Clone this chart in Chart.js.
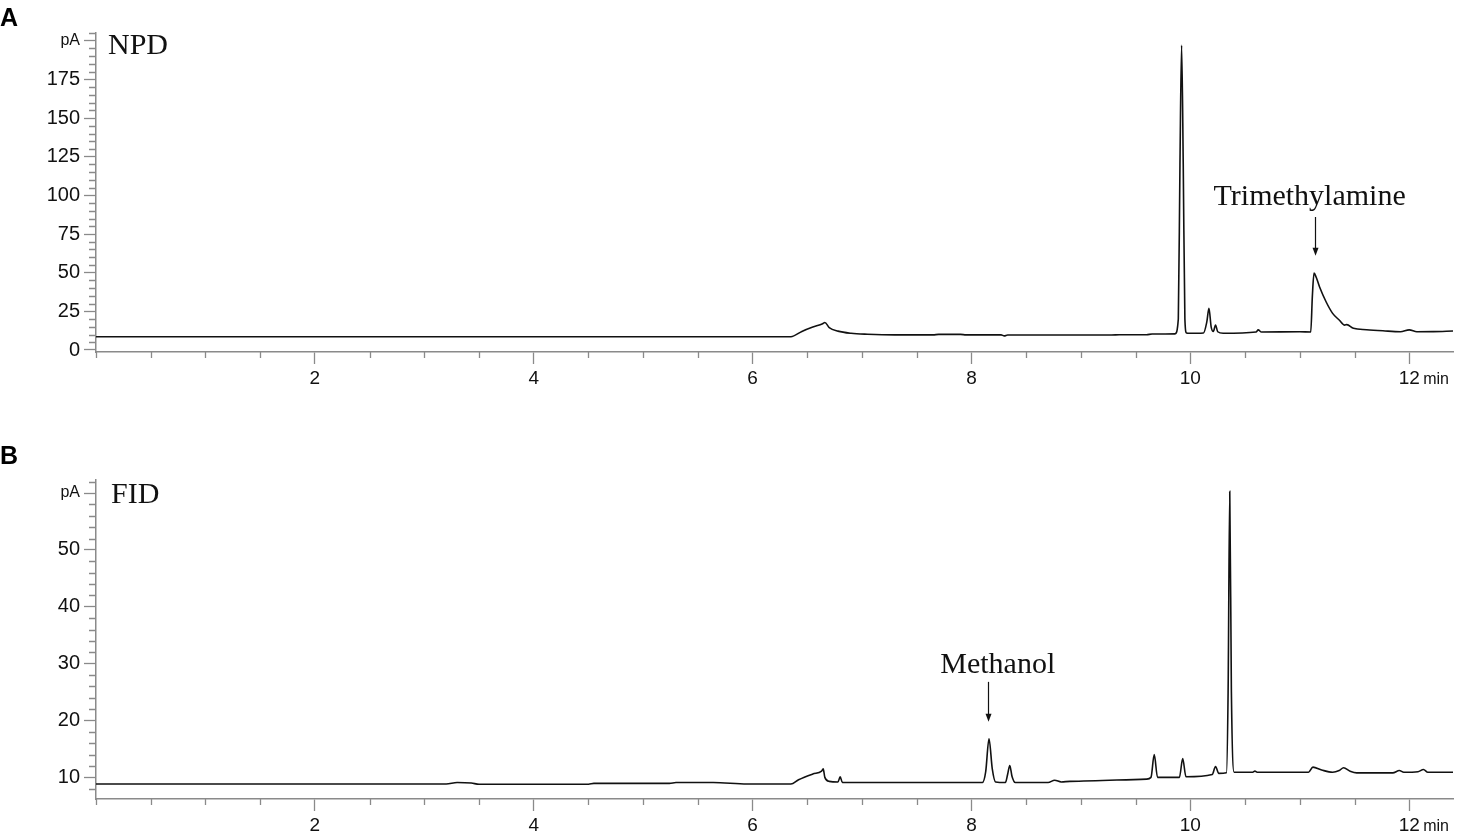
<!DOCTYPE html>
<html>
<head>
<meta charset="utf-8">
<title>GC chromatograms NPD / FID</title>
<script src="https://cdn.jsdelivr.net/npm/chart.js"></script>
<style>
  body { margin: 0; background: #fff; }
  #wrap { position: relative; width: 1457px; height: 836px; overflow: hidden; }
  .panel { position: absolute; left: 0; width: 1457px; }
</style>
</head>
<body>
<div id="wrap">
  <div class="panel" style="top:0;height:389px"><canvas id="npdChart" width="1457" height="389"></canvas></div>
  <div class="panel" style="top:437px;height:399px"><canvas id="fidChart" width="1457" height="399"></canvas></div>
</div>
<script>
// panel A - NPD trace: retention time (min) / signal (pA)
const npdTime = [0, 6.35, 6.45, 6.55, 6.64, 6.66, 6.70, 6.78, 6.90, 7.05, 7.30, 7.65, 7.70, 7.90, 7.95,
  8.27, 8.30, 8.33, 9.28, 9.35, 9.60, 9.65, 9.86, 9.89, 9.905, 9.92, 9.935, 9.95, 9.965, 9.99,
  10.12, 10.15, 10.17, 10.19, 10.21, 10.23, 10.25, 10.30, 10.60, 10.62, 10.65, 11.00, 11.10, 11.115,
  11.13, 11.15, 11.18, 11.24, 11.30, 11.36, 11.41, 11.43, 11.49, 11.61, 11.76, 11.92, 12.00, 12.07, 12.22, 12.40];
const npdSignal = [8.6, 8.6, 12.0, 14.8, 17.0, 17.8, 14.5, 12.2, 10.8, 10.2, 9.8, 9.8, 10.1, 10.1, 9.8,
  9.8, 9.1, 9.7, 9.7, 9.9, 9.9, 10.3, 10.4, 20, 120, 197, 120, 20, 11.0, 10.8,
  11.0, 18, 26.9, 15, 12.0, 16.1, 11.8, 10.8, 11.6, 13.0, 11.6, 11.8, 11.6, 35,
  49.7, 47, 40.9, 31.2, 23.7, 19.4, 16.1, 16.4, 14.0, 13.1, 12.4, 11.8, 13.0, 11.8, 11.9, 12.3];

// panel B - FID trace
const fidTime = [0, 3.20, 3.30, 3.43, 3.50, 4.50, 4.55, 5.24, 5.30, 5.64, 5.95, 6.35, 6.42, 6.55, 6.63,
  6.645, 6.66, 6.70, 6.78, 6.80, 6.82, 8.10, 8.13, 8.16, 8.19, 8.22, 8.31, 8.33, 8.35, 8.37, 8.40,
  8.70, 8.76, 8.82, 8.90, 9.60, 9.64, 9.67, 9.70, 9.90, 9.93, 9.96, 10.20, 10.23, 10.26, 10.33,
  10.345, 10.36, 10.375, 10.40, 10.57, 10.59, 10.61, 11.08, 11.12, 11.20, 11.30, 11.36, 11.40,
  11.46, 11.52, 11.85, 11.91, 11.95, 12.08, 12.13, 12.17, 12.40];
const fidSignal = [8.85, 8.85, 9.1, 9.0, 8.8, 8.8, 8.95, 8.95, 9.1, 9.1, 8.85, 8.85, 9.6, 10.6, 11.1,
  11.5, 10.0, 9.3, 9.2, 10.1, 9.1, 9.1, 11.0, 16.8, 11.5, 9.2, 9.1, 10.5, 12.1, 10.2, 9.1,
  9.1, 9.5, 9.2, 9.3, 9.7, 10.0, 14.0, 10.0, 10.0, 13.3, 10.1, 10.5, 11.9, 10.7, 10.8,
  25, 60.3, 25, 10.9, 10.9, 11.1, 10.9, 10.9, 11.8, 11.3, 10.9, 11.2, 11.7,
  11.1, 10.8, 10.8, 11.2, 10.9, 11.0, 11.4, 10.9, 10.9];

// tick labels
const xTickLabels = [2, 4, 6, 8, 10, 12];
const npdTickLabels = [0, 25, 50, 75, 100, 125, 150, 175];
const fidTickLabels = [10, 20, 30, 40, 50];

const axisGrey = '#8a8a8a';
const sans = "'Liberation Sans', Arial, sans-serif";
const serif = "'Liberation Serif', 'Times New Roman', serif";

function stepTicks(from, to, step) {
  const t = [];
  for (let v = from; v <= to + 1e-9; v += step) t.push({ value: +v.toFixed(3) });
  return t;
}

// short minor ticks, panel letter, detector name, peak annotation
const decorPlugin = {
  id: 'decor',
  afterDraw(chart) {
    const o = chart.options.plugins.decor;
    const ctx = chart.ctx;
    const xs = chart.scales.x, ys = chart.scales.y;
    const area = chart.chartArea;
    ctx.save();
    ctx.strokeStyle = axisGrey;
    ctx.lineWidth = 1.3;
    ctx.beginPath();
    xs.ticks.forEach(t => {
      if (xTickLabels.includes(t.value)) return;
      const px = Math.round(xs.getPixelForValue(t.value)) + 0.5;
      ctx.moveTo(px, area.bottom); ctx.lineTo(px, area.bottom + 6);
    });
    ys.ticks.forEach(t => {
      if (o.majorY.includes(t.value)) return;
      const py = Math.round(ys.getPixelForValue(t.value)) + 0.5;
      ctx.moveTo(area.left, py); ctx.lineTo(area.left - 7, py);
    });
    ctx.stroke();

    // "min" after the 12 label
    ctx.fillStyle = '#111';
    ctx.font = '16px ' + sans;
    ctx.textAlign = 'left';
    ctx.textBaseline = 'top';
    ctx.fillText('min', xs.getPixelForValue(12) + 14, area.bottom + 20);

    // panel letter
    ctx.font = 'bold 25px ' + sans;
    ctx.textBaseline = 'alphabetic';
    ctx.fillStyle = '#000';
    ctx.fillText(o.letter, 0, o.letterY);

    // detector
    ctx.font = '30px ' + serif;
    ctx.fillStyle = '#111';
    ctx.fillText(o.detector, area.left + o.detDx, area.top + o.detDy);

    // annotation + arrow
    const a = o.note;
    ctx.textAlign = 'center';
    ctx.fillText(a.text, xs.getPixelForValue(a.textX), ys.getPixelForValue(a.textY));
    const ax = Math.round(xs.getPixelForValue(a.arrowX)) + 0.5;
    const y0 = ys.getPixelForValue(a.from), y1 = ys.getPixelForValue(a.to);
    ctx.strokeStyle = '#111';
    ctx.lineWidth = 1.2;
    ctx.beginPath();
    ctx.moveTo(ax, y0); ctx.lineTo(ax, y1 - 6);
    ctx.stroke();
    ctx.beginPath();
    ctx.moveTo(ax, y1); ctx.lineTo(ax - 3, y1 - 8); ctx.lineTo(ax + 3, y1 - 8); ctx.closePath();
    ctx.fill();
    ctx.restore();
  }
};

function makeChart(id, time, signal, yMin, yMax, yStep, yFirst, yLabels, pAValue, padTop, decor) {
  const majorY = yLabels.concat([pAValue]);
  decor.majorY = majorY;
  return new Chart(document.getElementById(id), {
    type: 'line',
    data: {
      datasets: [{
        data: time.map((t, i) => ({ x: t, y: signal[i] })),
        borderColor: '#111',
        borderWidth: 1.6,
        pointRadius: 0,
        cubicInterpolationMode: 'monotone',
        fill: false
      }]
    },
    options: {
      responsive: false,
      animation: false,
      devicePixelRatio: 1,
      layout: { padding: { top: padTop, right: 4, left: 0, bottom: 0 } },
      plugins: { legend: { display: false }, tooltip: { enabled: false }, decor: decor },
      scales: {
        x: {
          type: 'linear',
          min: 0, max: 12.4,
          afterBuildTicks: s => { s.ticks = stepTicks(0, 12.4, 0.5); },
          afterFit: s => { s.height = 37; },
          border: { color: axisGrey, width: 1.5 },
          grid: {
            drawOnChartArea: false, tickLength: 12, tickWidth: 1.3,
            tickColor: c => xTickLabels.includes(c.tick && c.tick.value) ? axisGrey : 'rgba(0,0,0,0)'
          },
          ticks: {
            autoSkip: false, maxRotation: 0, padding: 3, color: '#111',
            font: { family: sans, size: 19 },
            callback: v => xTickLabels.includes(v) ? String(v) : ''
          }
        },
        y: {
          type: 'linear',
          min: yMin, max: yMax,
          afterBuildTicks: s => { s.ticks = stepTicks(yFirst, yMax, yStep); },
          afterFit: s => { s.width = 96; },
          border: { color: axisGrey, width: 1.5 },
          grid: {
            drawOnChartArea: false, tickLength: 12, tickWidth: 1.3,
            tickColor: c => majorY.includes(c.tick && c.tick.value) ? axisGrey : 'rgba(0,0,0,0)'
          },
          ticks: {
            autoSkip: false, padding: 4, color: '#111',
            font: c => ({ family: sans, size: (c.tick && c.tick.value === pAValue) ? 16 : 20 }),
            callback: v => v === pAValue ? 'pA' : (yLabels.includes(v) ? String(v) : '')
          }
        }
      }
    },
    plugins: [decorPlugin]
  });
}

makeChart('npdChart', npdTime, npdSignal, -1.3, 205, 5, 0, npdTickLabels, 200, 33, {
  letter: 'A', letterY: 26, detector: 'NPD', detDx: 12, detDy: 21,
  note: { text: 'Trimethylamine', textX: 11.09, textY: 94, arrowX: 11.14, from: 86, to: 61 }
});

makeChart('fidChart', fidTime, fidSignal, 6.2, 62.3, 2, 8, fidTickLabels, 60, 43, {
  letter: 'B', letterY: 27, detector: 'FID', detDx: 15, detDy: 23,
  note: { text: 'Methanol', textX: 8.24, textY: 28.3, arrowX: 8.155, from: 26.8, to: 19.8 }
});
</script>
</body>
</html>
